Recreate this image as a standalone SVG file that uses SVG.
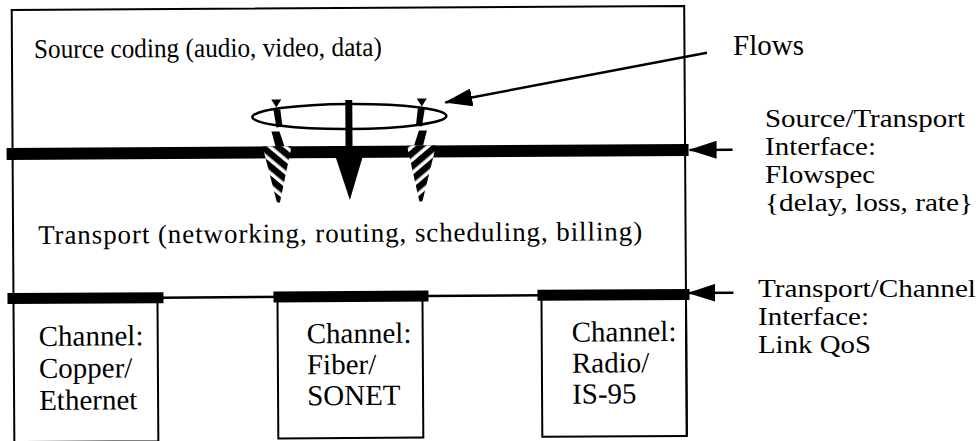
<svg xmlns="http://www.w3.org/2000/svg" width="979" height="441" viewBox="0 0 979 441">
<style>
.t{font-family:"Liberation Serif","Times New Roman",serif;fill:#000}
.main{font-size:27px}
.lbl{font-size:26px}
.ch{font-size:29px}
.edge{fill:none;stroke:#000;stroke-width:2}
.bar{fill:#000}
.thin{stroke:#000;stroke-width:2.5}
.arr{stroke:#000;stroke-width:2.5;fill:none;marker-end:url(#ah)}
</style>
<defs>
<marker id="ah" markerUnits="userSpaceOnUse" markerWidth="28" markerHeight="18" viewBox="0 0 28 18" refX="27" refY="9" orient="auto">
<path d="M0,0 L28,9 L0,18 Z" fill="#000"/>
</marker>
<pattern id="stripes" patternUnits="userSpaceOnUse" width="10" height="10" patternTransform="rotate(40)">
<rect width="10" height="10" fill="#fff"/>
<rect width="10" height="6.5" fill="#000"/>
</pattern>
<g id="funnelL">
<polygon points="272,99 282,99 277,107" fill="#000"/>
<polygon points="274,109 281,109 283,126 277,127" fill="#000"/>
<polygon points="272,131 280,131 285,146 276,146" fill="#000"/>
<polygon points="263,146 292,146 280,202 277,202" fill="url(#stripes)"/>
</g>
</defs>
<rect width="979" height="441" fill="#fff"/>
<g transform="rotate(-0.35 350 220)">
<g id="source-layer">
<text class="t main" x="35" y="56" textLength="348" lengthAdjust="spacingAndGlyphs">Source coding (audio, video, data)</text>
</g>
<g id="transport-layer">
<text class="t main" x="38" y="242" textLength="604" lengthAdjust="spacing">Transport (networking, routing, scheduling, billing)</text>
</g>
<g id="main-box">
<path class="edge" d="M13,440 V8 H685.5 V438"/>
</g>
<g id="channel-copper">
<path class="edge" d="M157,296 V440 H13"/>
<text class="t ch" x="38" y="344"><tspan x="38">Channel:</tspan><tspan x="38" dy="32">Copper/</tspan><tspan x="38" dy="32">Ethernet</tspan></text>
</g>
<g id="channel-fiber">
<rect class="edge" x="277" y="296" width="145" height="142"/>
<text class="t ch" x="306" y="343"><tspan x="306">Channel:</tspan><tspan x="306" dy="31">Fiber/</tspan><tspan x="306" dy="31">SONET</tspan></text>
</g>
<g id="channel-radio">
<rect class="edge" x="541" y="296" width="144.5" height="142"/>
<text class="t ch" x="571" y="343"><tspan x="571">Channel:</tspan><tspan x="571" dy="31">Radio/</tspan><tspan x="571" dy="31">IS-95</tspan></text>
</g>
<g id="source-transport-interface">
<rect class="bar" x="7" y="146" width="682" height="12"/>
</g>
<g id="transport-channel-interface">
<line class="thin" x1="160" y1="296.5" x2="540" y2="296.5"/>
<rect class="bar" x="7" y="291" width="156" height="11"/>
<rect class="bar" x="273" y="291" width="155" height="11"/>
<rect class="bar" x="537" y="291" width="152" height="11"/>
</g>
<g id="flows">
<ellipse cx="350" cy="116.5" rx="97" ry="12.5" fill="none" stroke="#000" stroke-width="2.5"/>
<rect x="346" y="100" width="7" height="48" fill="#000"/>
<polygon points="336,157 363,157 350,200" fill="#000"/>
<use href="#funnelL"/>
<use href="#funnelL" transform="translate(699.5,0) scale(-1,1)"/>
</g>
<g id="connectors">
<line class="arr" x1="708" y1="55" x2="446" y2="103"/>
<line class="arr" x1="733" y1="152" x2="690" y2="152"/>
<line class="arr" x1="733" y1="295" x2="688" y2="295"/>
</g>
</g>
<g id="labels">
<text class="t lbl" x="733" y="55" style="font-size:29px">Flows</text>
<text class="t lbl" x="765" y="127" textLength="200" lengthAdjust="spacingAndGlyphs">Source/Transport</text>
<text class="t lbl" x="765" y="155" textLength="111" lengthAdjust="spacingAndGlyphs">Interface:</text>
<text class="t lbl" x="765" y="183" textLength="110" lengthAdjust="spacingAndGlyphs">Flowspec</text>
<text class="t lbl" x="765" y="211" textLength="208" lengthAdjust="spacingAndGlyphs">{delay, loss, rate}</text>
<text class="t lbl" x="758" y="297" textLength="218" lengthAdjust="spacingAndGlyphs">Transport/Channel</text>
<text class="t lbl" x="758" y="325" textLength="111" lengthAdjust="spacingAndGlyphs">Interface:</text>
<text class="t lbl" x="758" y="353" textLength="113" lengthAdjust="spacingAndGlyphs">Link QoS</text>
</g>
</svg>
